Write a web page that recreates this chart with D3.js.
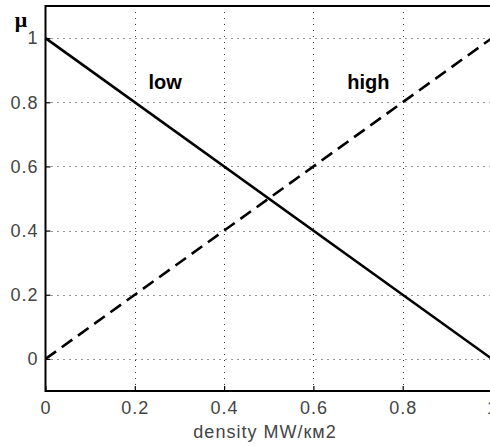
<!DOCTYPE html>
<html>
<head>
<meta charset="utf-8">
<script src="https://cdn.jsdelivr.net/npm/d3@7"></script>
<style>
  html, body { margin: 0; padding: 0; background: #fff; overflow: hidden; }
  svg { display: block; }
  .tick text { font-family: "Liberation Sans", Arial, sans-serif; font-size: 18px; fill: #444; letter-spacing: 1px; }
</style>
</head>
<body>
<svg id="chart" width="490" height="446"></svg>
<script>
// Membership functions for power density (fuzzy sets "low" and "high")
const densityX = [0, 1];
const lowMu = [1, 0];
const highMu = [0, 1];
const xTicks = [0, 0.2, 0.4, 0.6, 0.8, 1];
const yTicks = [0, 0.2, 0.4, 0.6, 0.8, 1];
const xTickLabels = ["0", "0.2", "0.4", "0.6", "0.8", "1"];
const yTickLabels = ["0", "0.2", "0.4", "0.6", "0.8", "1"];
const setNames = ["low", "high"];

const svg = d3.select("#chart");
const plotLeft = 45.5, plotRight = 492, plotTop = 6, plotBottom = 391;

const x = d3.scaleLinear().domain([0, 1]).range([plotLeft, plotRight]);
const y = d3.scaleLinear().domain([-0.1, 1.1]).range([plotBottom, plotTop]);

// dotted grid
const grid = svg.append("g").attr("stroke", "#333").attr("stroke-width", 1)
  .attr("stroke-dasharray", "1,5");
grid.selectAll("line.v").data(xTicks.slice(1)).join("line")
  .attr("x1", d => Math.round(x(d)) + 0.5).attr("x2", d => Math.round(x(d)) + 0.5)
  .attr("y1", plotBottom).attr("y2", plotTop);
grid.selectAll("line.h").data(yTicks).join("line")
  .attr("y1", d => Math.round(y(d)) + 0.5).attr("y2", d => Math.round(y(d)) + 0.5)
  .attr("x1", plotLeft).attr("x2", plotRight);

// axes with inward ticks
const xAxis = d3.axisBottom(x).tickValues(xTicks)
  .tickFormat((d, i) => xTickLabels[i]).tickSizeInner(-5).tickSizeOuter(0).tickPadding(10);
const yAxis = d3.axisLeft(y).tickValues(yTicks)
  .tickFormat((d, i) => yTickLabels[i]).tickSizeInner(-5).tickSizeOuter(0).tickPadding(7);

const gx = svg.append("g").attr("transform", `translate(0,${plotBottom})`).call(xAxis);
const gy = svg.append("g").attr("transform", `translate(${plotLeft},0)`).call(yAxis);
[gx, gy].forEach(g => {
  g.select(".domain").remove();
  g.selectAll(".tick line").attr("stroke", "#000").attr("stroke-width", 1.2);
});

// frame
svg.append("rect").attr("x", plotLeft).attr("y", plotTop)
  .attr("width", plotRight - plotLeft).attr("height", plotBottom - plotTop)
  .attr("fill", "none").attr("stroke", "#000").attr("stroke-width", 2);

// membership lines
const line = d3.line().x(d => x(d[0])).y(d => y(d[1]));
svg.append("path").datum(densityX.map((v, i) => [v, lowMu[i]]))
  .attr("d", line).attr("fill", "none").attr("stroke", "#000").attr("stroke-width", 2.6);
svg.append("path").datum(densityX.map((v, i) => [v, highMu[i]]))
  .attr("d", line).attr("fill", "none").attr("stroke", "#000").attr("stroke-width", 2.6)
  .attr("stroke-dasharray", "13,7");

// set names
const labelPos = [[0.268, 0.84], [0.723, 0.84]];
svg.selectAll("text.setname").data(setNames).join("text")
  .attr("class", "setname")
  .attr("x", (d, i) => x(labelPos[i][0])).attr("y", (d, i) => y(labelPos[i][1]))
  .attr("text-anchor", "middle")
  .attr("font-family", "Liberation Sans, Arial, sans-serif")
  .attr("font-weight", "bold").attr("font-size", 20).attr("fill", "#000")
  .text(d => d);

// axis titles
svg.append("text").attr("x", 21).attr("y", 27).attr("text-anchor", "middle")
  .attr("font-family", "Liberation Serif, Times New Roman, serif")
  .attr("font-weight", "bold").attr("font-size", 22).attr("fill", "#000").text("μ");
svg.append("text").attr("x", 265).attr("y", 438).attr("text-anchor", "middle")
  .attr("font-family", "Liberation Sans, Arial, sans-serif")
  .attr("font-size", 18).attr("letter-spacing", "1px").attr("fill", "#444").text("density MW/км2");
</script>
</body>
</html>
